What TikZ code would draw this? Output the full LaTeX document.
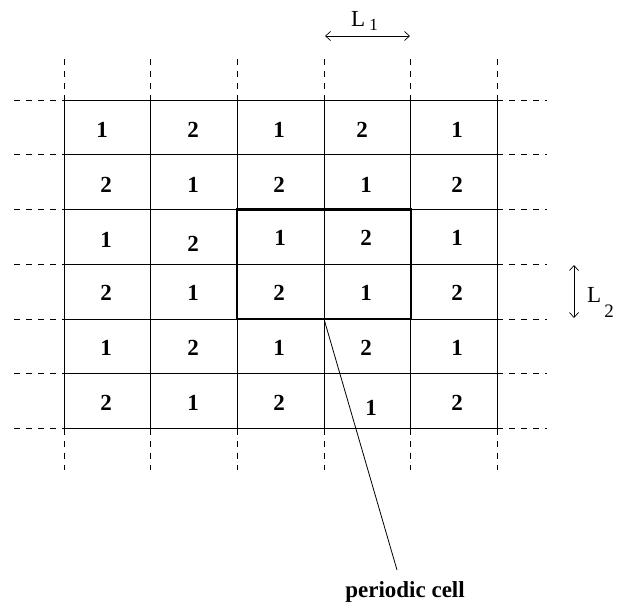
\documentclass[tikz,border=0pt]{standalone}
\usepackage{fontspec}
\setmainfont{Liberation Serif}
\usetikzlibrary{arrows.meta}
\begin{document}
\begin{tikzpicture}[x=1pt,y=-1pt,
  gridline/.style={line width=0.9pt},
  extline/.style={line width=0.8pt, dash pattern=on 6pt off 6pt},
  cellbox/.style={line width=2.2pt},
  num/.style={font=\fontsize{23}{23}\selectfont\bfseries, inner sep=0pt},
  dimlabel/.style={font=\fontsize{23}{23}\selectfont, inner sep=0pt},
  dimarrow/.style={{Straight Barb[length=5pt,width=9pt]}-{Straight Barb[length=5pt,width=9pt]}, line width=0.7pt},
  leader/.style={line width=0.8pt}]
\useasboundingbox (0,0) rectangle (620,610);
% grid
\foreach \xx in {64,150.7,237.3,324,410.7,497.3}{
  \draw[gridline] (\xx,100) -- (\xx,428.5);
  \draw[extline] (\xx,59) -- (\xx,100);
  \draw[extline] (\xx,428.5) -- (\xx,470);
}
\foreach \yy in {100,154.75,209.5,264.25,319,373.75,428.5}{
  \draw[gridline] (64,\yy) -- (497.3,\yy);
  \draw[extline] (14,\yy) -- (64,\yy);
  \draw[extline] (497.3,\yy) -- (547,\yy);
}
% periodic cell
\draw[cellbox] (237.3,209.5) rectangle (410.7,319);
% numbers
\node[num] (n11) at (102,130) {1};
\node[num] (n12) at (193,130) {2};
\node[num] (n13) at (279,130) {1};
\node[num] (n14) at (362,130) {2};
\node[num] (n15) at (457,130) {1};
\node[num] (n21) at (106,185) {2};
\node[num] (n22) at (193,185) {1};
\node[num] (n23) at (279,185) {2};
\node[num] (n24) at (366,185) {1};
\node[num] (n25) at (457,185) {2};
\node[num] (n31) at (106,240) {1};
\node[num] (n32) at (193,244) {2};
\node[num] (n33) at (280,238) {1};
\node[num] (n34) at (366,238) {2};
\node[num] (n35) at (457,238) {1};
\node[num] (n41) at (106,293) {2};
\node[num] (n42) at (193,293) {1};
\node[num] (n43) at (279,293) {2};
\node[num] (n44) at (366,293) {1};
\node[num] (n45) at (457,293) {2};
\node[num] (n51) at (106,348) {1};
\node[num] (n52) at (193,348) {2};
\node[num] (n53) at (279,348) {1};
\node[num] (n54) at (366,348) {2};
\node[num] (n55) at (457,348) {1};
\node[num] (n61) at (106,403) {2};
\node[num] (n62) at (193,403) {1};
\node[num] (n63) at (279,403) {2};
\node[num] (n64) at (371,408) {1};
\node[num] (n65) at (457,403) {2};
% dimensions
\coordinate (l1a) at (325,36);
\coordinate (l1b) at (410,36);
\draw[dimarrow] (l1a) -- (l1b);
\node[dimlabel, anchor=base west] (l1) at (351,27) {L\hspace{4pt}\raisebox{-4pt}{\fontsize{17}{17}\selectfont 1}};
\coordinate (l2a) at (574,265);
\coordinate (l2b) at (574,318);
\draw[dimarrow] (l2a) -- (l2b);
\node[dimlabel, anchor=base west] (l2) at (587,302) {L\hspace{3pt}\raisebox{-15pt}{\fontsize{19}{19}\selectfont 2}};
% leader
\node[num, anchor=base] (pc) at (405,597) {periodic cell};
\coordinate (corner) at (324,319);
\coordinate (leadend) at (397,570);
\draw[leader] (corner) -- (leadend);
\end{tikzpicture}
\end{document}
